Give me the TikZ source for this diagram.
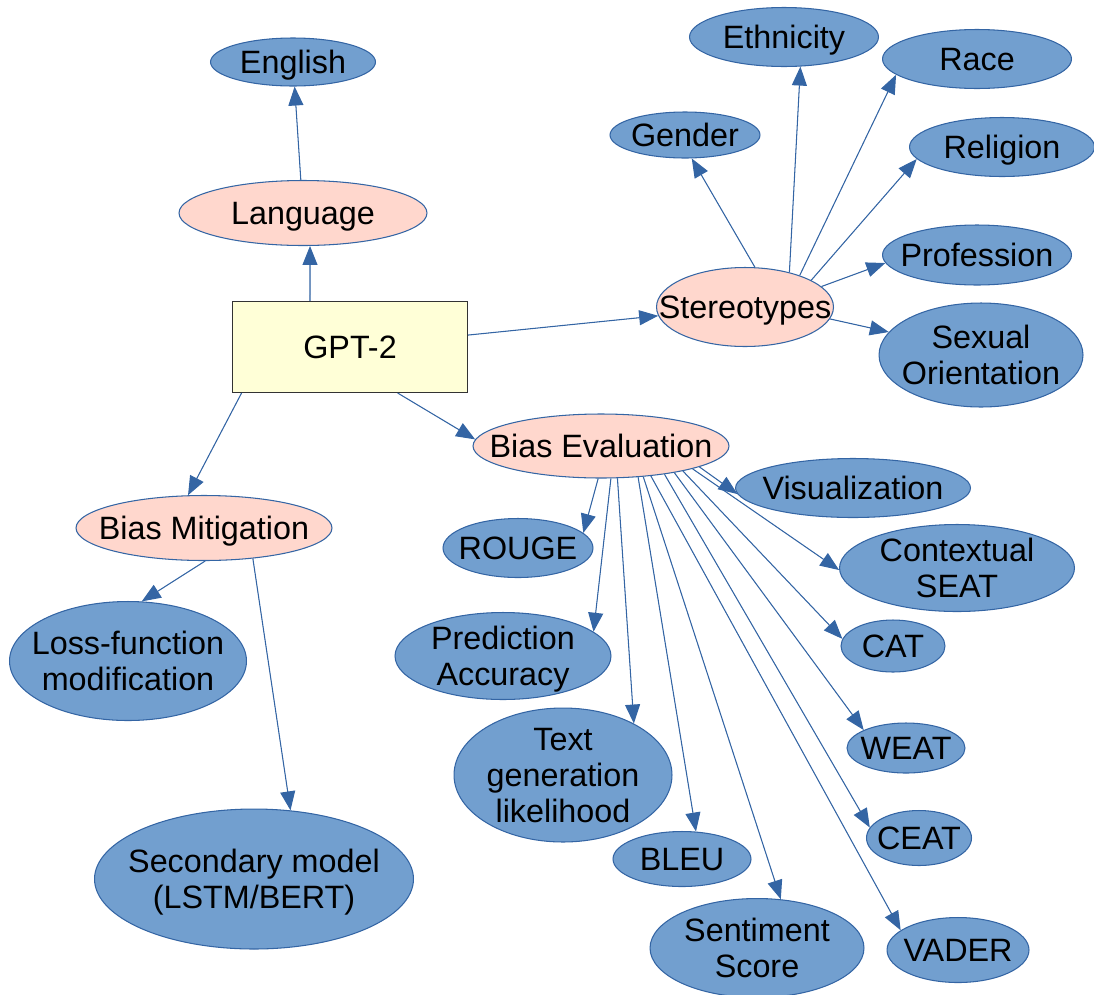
\documentclass[tikz,border=0pt]{standalone}
\usepackage{fontspec}
\setmainfont{Liberation Sans}
\usetikzlibrary{shapes.geometric,arrows.meta}
\definecolor{leafblue}{RGB}{114,159,207}
\definecolor{edgeblue}{RGB}{52,101,164}
\definecolor{topicpink}{RGB}{255,215,205}
\definecolor{rootyellow}{RGB}{255,255,215}

\begin{document}
\begin{tikzpicture}[x=0.02cm,y=-0.02cm,
  every node/.style={font=\fontsize{18.4}{20.5}\selectfont},
  every label/.style={align=center,inner sep=0pt,text depth=0pt},
  topic/.style={ellipse,draw=edgeblue,line width=0.6pt,fill=topicpink,inner sep=0pt},
  leaf/.style={ellipse,draw=edgeblue,line width=0.6pt,fill=leafblue,inner sep=0pt},
  arr/.style={-{Triangle[length=0.38cm,width=0.3cm]},draw=edgeblue,fill=edgeblue,line width=0.6pt}]
\useasboundingbox (0,0) rectangle (1094,994);

% root and the three branches
\node[draw=black!80,fill=rootyellow,line width=0.6pt,minimum width=4.7cm,
  minimum height=1.82cm] (gpt) at (350,347) {GPT-2};
\node[topic,minimum width=4.96cm,minimum height=1.3cm,label=center:Language] (lang) at (303,213) {};
\node[topic,minimum width=3.54cm,minimum height=1.58cm,label=center:Stereotypes] (stereo) at (745,307) {};
\node[topic,minimum width=5.12cm,minimum height=1.28cm,label=center:Bias Evaluation] (beval) at (601,446) {};
\node[topic,minimum width=5.12cm,minimum height=1.3cm,label=center:Bias Mitigation] (bmit) at (204,528) {};

% language
\node[leaf,minimum width=3.3cm,minimum height=0.96cm,label=center:English] (eng) at (293,62) {};

% stereotypes
\node[leaf,minimum width=3.0cm,minimum height=0.92cm,label=center:Gender] (gender) at (685,135) {};
\node[leaf,minimum width=3.78cm,minimum height=1.18cm,label=center:Ethnicity] (ethn) at (784,37) {};
\node[leaf,minimum width=3.78cm,minimum height=1.18cm,label=center:Race] (race) at (977,59) {};
\node[leaf,minimum width=3.7cm,minimum height=1.18cm,label=center:Religion] (relig) at (1002,147) {};
\node[leaf,minimum width=3.78cm,minimum height=1.2cm,label=center:Profession] (prof) at (977,255) {};
\node[leaf,minimum width=4.08cm,minimum height=2.08cm,
  label={center:Sexual\\Orientation}] (sexor) at (981,355) {};

% bias evaluation
\node[leaf,minimum width=4.7cm,minimum height=1.18cm,label=center:Visualization] (visual) at (853,488) {};
\node[leaf,minimum width=3.0cm,minimum height=1.18cm,label=center:ROUGE] (rouge) at (518,548) {};
\node[leaf,minimum width=4.7cm,minimum height=1.74cm,
  label={center:Contextual\\SEAT}] (cseat) at (957,568) {};
\node[leaf,minimum width=4.32cm,minimum height=1.74cm,
  label={center:Prediction\\Accuracy}] (predacc) at (503,656) {};
\node[leaf,minimum width=2.08cm,minimum height=1.04cm,label=center:CAT] (cat) at (893,646) {};
\node[leaf,minimum width=4.36cm,minimum height=2.68cm,
  label={center:Text\\generation\\likelihood}] (textgen) at (563,775) {};
\node[leaf,minimum width=2.36cm,minimum height=1.0cm,label=center:WEAT] (weat) at (906,748) {};
\node[leaf,minimum width=2.76cm,minimum height=1.1cm,label=center:BLEU] (bleu) at (682,859) {};
\node[leaf,minimum width=2.1cm,minimum height=1.1cm,label=center:CEAT] (ceat) at (919,838) {};
\node[leaf,minimum width=4.28cm,minimum height=1.98cm,
  label={center:Sentiment\\Score}] (senti) at (757,948) {};
\node[leaf,minimum width=2.84cm,minimum height=1.3cm,label=center:VADER] (vader) at (958,950) {};

% bias mitigation
\node[leaf,minimum width=4.74cm,minimum height=2.38cm,
  label={center:Loss-function\\modification}] (loss) at (128,661) {};
\node[leaf,minimum width=6.38cm,minimum height=2.8cm,
  label={center:Secondary model\\(LSTM/BERT)}] (sec) at (254,879) {};

\draw[arr] (gpt.131) -- (lang.-78);
\draw[arr] (lang) -- (eng);
\draw[arr] (gpt) -- (stereo);
\draw[arr] (gpt.-44) -- (beval.177);
\draw[arr] (gpt.-157) -- (bmit.116);

\draw[arr] (stereo.76) -- (gender.-74);
\draw[arr] (stereo.38) -- (ethn.-61);
\draw[arr] (stereo.30) -- (race.191);
\draw[arr] (stereo.22) -- (relig.188);
\draw[arr] (stereo.15) -- (prof.185);
\draw[arr] (stereo.-8) -- (sexor.166);

\draw[arr] (beval.-95) -- (rouge.13);
\draw[arr] (beval.-73) -- (predacc.15);
\draw[arr] (beval.-63) -- (textgen.36);
\draw[arr] (beval.-40) -- (bleu.63);
\draw[arr] (beval.-36) -- (senti.64);
\draw[arr] (beval.-31) -- (vader.161);
\draw[arr] (beval.-24) -- (ceat.168);
\draw[arr] (beval.-20) -- (weat.157);
\draw[arr] (beval.-17) -- (cat.172);
\draw[arr] (beval.-14) -- (cseat.181);
\draw[arr] (beval.-12) -- (visual.183);

\draw[arr] (bmit.-88) -- (loss.77);
\draw[arr] (bmit.-32) -- (sec.62);
\end{tikzpicture}
\end{document}
